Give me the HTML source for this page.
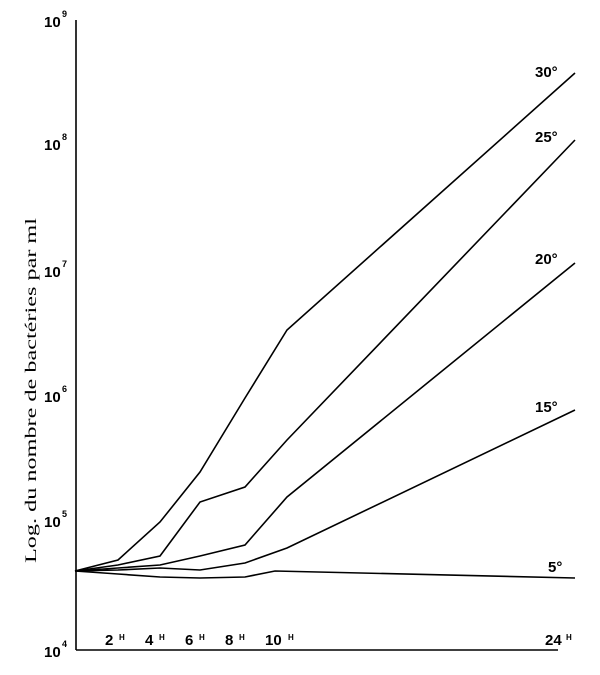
<!DOCTYPE html>
<html><head><style>body{margin:0;background:#fff}</style></head><body>
<svg width="600" height="670" xmlns="http://www.w3.org/2000/svg" font-family="Liberation Sans, sans-serif">
<rect width="600" height="670" fill="#fff"/>
<g stroke="#000" fill="none" stroke-width="1.6">
<line x1="76" y1="20" x2="76" y2="650"/>
<line x1="76" y1="650" x2="558" y2="650"/>
<polyline points="75,571 118,560 160,522 200,472 245,398 287,330 575,73"/>
<polyline points="75,571 118,565 160,556 200,502 245,487 287,440 575,140"/>
<polyline points="75,571 118,568 160,565 200,556 245,545 287,497 575,263"/>
<polyline points="75,571 118,570 160,568 200,570 245,563 287,548 575,410"/>
<polyline points="75,571 118,574 160,577 200,578 245,577 275,571 575,578"/>
</g>
<g font-weight="bold" font-size="15" fill="#000">
<text x="44" y="27">10</text><text x="62" y="17" font-size="9">9</text>
<text x="44" y="150">10</text><text x="62" y="140" font-size="9">8</text>
<text x="44" y="277">10</text><text x="62" y="267" font-size="9">7</text>
<text x="44" y="402">10</text><text x="62" y="392" font-size="9">6</text>
<text x="44" y="527">10</text><text x="62" y="517" font-size="9">5</text>
<text x="44" y="657">10</text><text x="62" y="647" font-size="9">4</text>
<text x="105" y="645">2</text><text x="119" y="640" font-size="8">H</text>
<text x="145" y="645">4</text><text x="159" y="640" font-size="8">H</text>
<text x="185" y="645">6</text><text x="199" y="640" font-size="8">H</text>
<text x="225" y="645">8</text><text x="239" y="640" font-size="8">H</text>
<text x="265" y="645">10</text><text x="288" y="640" font-size="8">H</text>
<text x="545" y="645">24</text><text x="566" y="640" font-size="8">H</text>
<text x="535" y="77">30°</text>
<text x="535" y="142">25°</text>
<text x="535" y="264">20°</text>
<text x="535" y="412">15°</text>
<text x="548" y="572">5°</text>
</g>
<text transform="translate(36,563) rotate(-90)" font-family="Liberation Serif, serif" font-size="16" fill="#000" textLength="345" lengthAdjust="spacingAndGlyphs">Log. du nombre de bactéries par ml</text>
</svg>
</body></html>
